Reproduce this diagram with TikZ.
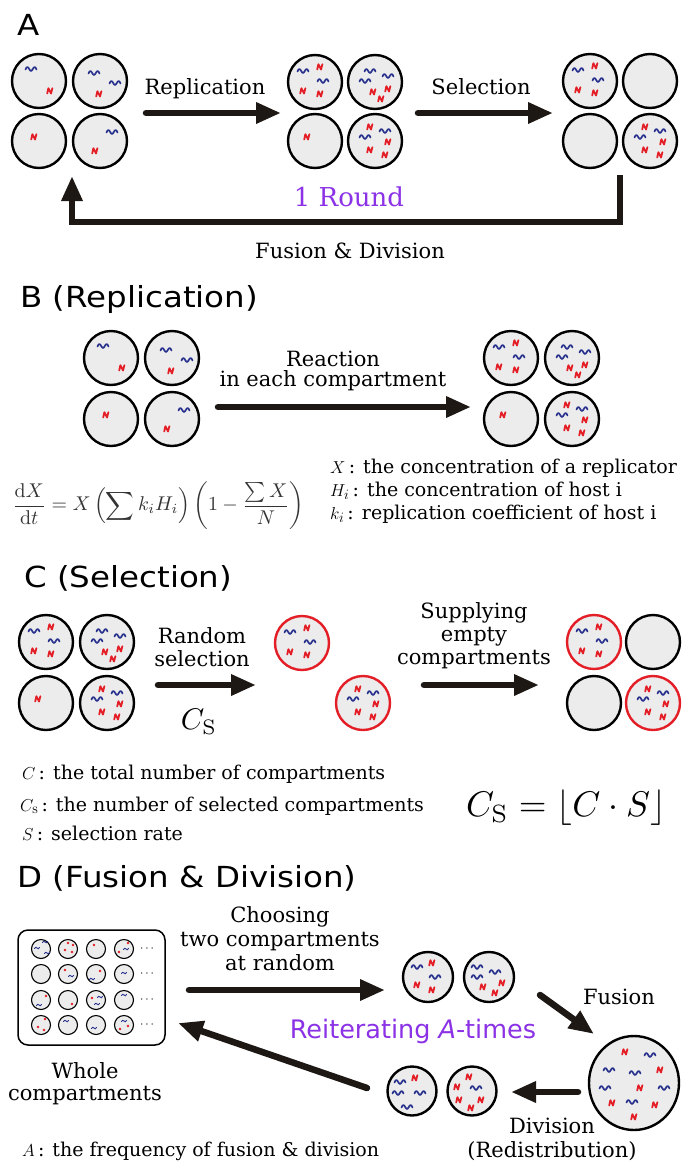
\documentclass[tikz,border=0pt]{standalone}
\usepackage[no-math]{fontspec}
\usepackage{graphicx}
\setmainfont{DejaVu Serif}
\newfontfamily\ttlfont[FakeStretch=1.12]{DejaVu Sans}
\newfontfamily\sansfnt{DejaVu Sans}
\usetikzlibrary{arrows.meta,shapes.geometric}
\definecolor{cellgray}{RGB}{236,236,236}
\definecolor{arrblack}{RGB}{30,24,21}
\definecolor{wblue}{RGB}{40,50,140}
\definecolor{wred}{RGB}{228,30,38}
\definecolor{rpurple}{RGB}{140,50,230}
\newcommand\bodyfs{\fontsize{21}{24}\selectfont}
\newcommand\legfs{\fontsize{19}{22}\selectfont}
\newcommand\ttlfs{\fontsize{29}{34}\selectfont}
\tikzset{
 cell/.style={circle, draw=black, line width=2.4pt, fill=cellgray, minimum size=54pt, inner sep=0pt},
 redcell/.style={cell, draw=wred},
 mini/.style={circle, draw=black, line width=1.1pt, fill=cellgray, minimum size=19pt, inner sep=0pt},
 bigarrow/.style={draw=arrblack, line width=6.5pt, line cap=round, -{Triangle[length=25pt,width=20pt]}},
 txt/.style={font=\bodyfs, inner sep=0pt, anchor=base},
 leg/.style={font=\legfs, inner sep=0pt, anchor=base west},
 ttl/.style={font=\ttlfont\ttlfs, inner sep=0pt, anchor=base west},
 bw/.pic={\draw[wblue, line width=1.7pt, line cap=round, line join=round] (-5.5,0.5) sin (-3.7,-2) cos (-1.8,0) sin (0,2) cos (1.8,0) sin (3.7,-2) cos (5.5,0.5);},
 rz/.pic={\draw[wred, line width=1.8pt, line join=round, line cap=round] (-2.8,2.5) -- (-1.6,-2.8) -- (1,2.5) -- (2.4,-2.8);},
 bws/.pic={\draw[wblue, line width=0.9pt, line cap=round] (-2.5,0.5) sin (-1.2,-0.7) cos (0,0) sin (1.2,0.7) cos (2.5,-0.5);},
 rzs/.pic={\fill[wred] (0,0) circle (1.3);}
}
\newcommand\putblue[2]{\begin{scope}[shift={(#1.center)}]\foreach \px/\py in {#2}{\pic at (\px,\py) {bw};}\end{scope}}
\newcommand\putred[2]{\begin{scope}[shift={(#1.center)}]\foreach \px/\py in {#2}{\pic at (\px,\py) {rz};}\end{scope}}
\newcommand\putbluesm[2]{\begin{scope}[shift={(#1.center)}]\foreach \px/\py in {#2}{\pic at (\px,\py) {bws};}\end{scope}}
\newcommand\putredsm[2]{\begin{scope}[shift={(#1.center)}]\foreach \px/\py in {#2}{\pic at (\px,\py) {rzs};}\end{scope}}
\newcommand\sOne[1]{\putblue{#1}{-12/-11,8/-1}\putred{#1}{5/-15,-12/9,5/12}}
\newcommand\sTwo[1]{\putblue{#1}{-5/-11,13/-6,-10/-1}\putred{#1}{-2/10,13/7,6/17}}
\newcommand\sThree[1]{\putred{#1}{-8/-4}}
\newcommand\sFour[1]{\putblue{#1}{10/-10,-10/-4}\putred{#1}{-5/-14,13/1,-5/9,10/14}}
\newcommand\iOne[1]{\putblue{#1}{-8/-12}\putred{#1}{11/10}}
\newcommand\iTwo[1]{\putblue{#1}{-6/-8,15/2}\putred{#1}{-1/13}}
\newcommand\iThree[1]{\putred{#1}{-5/-4}}
\newcommand\iFour[1]{\putblue{#1}{12/-9}\putred{#1}{-5/10}}
\begin{document}
\begin{tikzpicture}[x=1pt,y=-1pt]
\useasboundingbox (0,0) rectangle (681,1165);
\fill[white] (0,0) rectangle (681,1165);

% ---------------- A ----------------
\node[ttl] (tA) at (17,35) {A};
\node[cell] (a1tl) at (39,81) {};
\node[cell] (a1tr) at (100,81) {};
\node[cell] (a1bl) at (39,141) {};
\node[cell] (a1br) at (100,141) {};
\iOne{a1tl}\iTwo{a1tr}\iThree{a1bl}\iFour{a1br}
\node[cell] (a2tl) at (315,82) {};
\node[cell] (a2tr) at (375,82) {};
\node[cell] (a2bl) at (315,141) {};
\node[cell] (a2br) at (375,141) {};
\sOne{a2tl}\sTwo{a2tr}\sThree{a2bl}\sFour{a2br}
\node[cell] (a3tl) at (590,81) {};
\node[cell] (a3tr) at (650,81) {};
\node[cell] (a3bl) at (590,141) {};
\node[cell] (a3br) at (650,141) {};
\sOne{a3tl}\sFour{a3br}
\node[txt] (lRep) at (205,94) {Replication};
\node[txt] (lSel) at (481,94) {Selection};
\coordinate (arA1s) at (146,113);
\coordinate (arA1e) at (281,113);
\draw[bigarrow] (arA1s) -- (arA1e);
\coordinate (arA2s) at (418,113);
\coordinate (arA2e) at (553,113);
\draw[bigarrow] (arA2s) -- (arA2e);
\coordinate (retS) at (620,175);
\coordinate (retE) at (72,176);
\draw[bigarrow, line cap=butt, line join=miter] (retS) -- (620,222) -| (retE);
\node[txt, text=rpurple, font=\fontsize{26}{30}\selectfont] (round) at (349,206) {1 Round};
\node[txt] (lFD) at (350,258) {Fusion \& Division};

% ---------------- B ----------------
\node[ttl] (tB) at (20,307) {B (Replication)};
\node[cell] (b1tl) at (111,358) {};
\node[cell] (b1tr) at (172,358) {};
\node[cell] (b1bl) at (111,419) {};
\node[cell] (b1br) at (172,419) {};
\iOne{b1tl}\iTwo{b1tr}\iThree{b1bl}\iFour{b1br}
\node[cell] (b2tl) at (511,358) {};
\node[cell] (b2tr) at (572,358) {};
\node[cell] (b2bl) at (511,419) {};
\node[cell] (b2br) at (572,419) {};
\sOne{b2tl}\sTwo{b2tr}\sThree{b2bl}\sFour{b2br}
\coordinate (arBs) at (218,407);
\coordinate (arBe) at (471,407);
\draw[bigarrow] (arBs) -- (arBe);
\node[txt] (lReac1) at (333,366) {Reaction};
\node[txt] (lReac2) at (333,386) {in each compartment};
\node[anchor=west, inner sep=0pt, text=black!80] (eqB) at (12,506)
  {\resizebox{292pt}{!}{$\displaystyle \frac{\mathrm{d}X}{\mathrm{d}t}=X\left(\sum k_i H_i\right)\left(1-\frac{\sum X}{N}\right)$}};
\node[leg] (legB1) at (330,473) {$X$\,: the concentration of a replicator};
\node[leg] (legB2) at (330,496) {$H_i$\,: the concentration of host i};
\node[leg] (legB3) at (330,519) {$k_i$\,: replication coefficient of host i};

% ---------------- C ----------------
\node[ttl] (tC) at (24,587) {C (Selection)};
\node[cell] (c1tl) at (46,642) {};
\node[cell] (c1tr) at (107,642) {};
\node[cell] (c1bl) at (46,703) {};
\node[cell] (c1br) at (107,703) {};
\sOne{c1tl}\sTwo{c1tr}\sThree{c1bl}\sFour{c1br}
\coordinate (arC1s) at (158,685);
\coordinate (arC1e) at (256,685);
\draw[bigarrow] (arC1s) -- (arC1e);
\node[txt] (lRand1) at (202,643) {Random};
\node[txt] (lRand2) at (202,666) {selection};
\node[inner sep=0pt] (lCs) at (199,722) {\resizebox{36pt}{!}{$C_{\mathrm{S}}$}};
\node[redcell] (cs1) at (302,643) {};
\node[redcell] (cs2) at (363,703) {};
\sOne{cs1}\sFour{cs2}
\coordinate (arC2s) at (424,685);
\coordinate (arC2e) at (539,685);
\draw[bigarrow] (arC2s) -- (arC2e);
\node[txt] (lSup1) at (474,618) {Supplying};
\node[txt] (lSup2) at (474,641) {empty};
\node[txt] (lSup3) at (474,664) {compartments};
\node[redcell] (c2tl) at (594,642) {};
\node[cell] (c2tr) at (653,642) {};
\node[cell] (c2bl) at (594,703) {};
\node[redcell] (c2br) at (653,703) {};
\sOne{c2tl}\sFour{c2br}
\node[leg] (legC1) at (22,779) {$C$\,: the total number of compartments};
\node[leg] (legC2) at (20,811) {$C_{\mathrm{s}}$\,: the number of selected compartments};
\node[leg] (legC3) at (22,840) {$S$\,: selection rate};
\node[inner sep=0pt] (eqC) at (566,808) {\resizebox{200pt}{!}{$C_{\mathrm{S}}=\lfloor C\cdot S\rfloor$}};

% ---------------- D ----------------
\node[ttl] (tD) at (17,887) {D (Fusion \& Division)};
\node[draw=black, fill=white, rounded corners=10pt, line width=1.5pt, minimum width=147pt, minimum height=115pt, inner sep=0pt] (whole) at (91.5,987.5) {};
\foreach \r/\yy in {1/949,2/974,3/1000,4/1025}{
  \foreach \c/\xx in {1/41,2/68,3/96,4/124}{
    \node[mini] (m\r\c) at (\xx,\yy) {};
  }
  \node[inner sep=0pt, font=\fontsize{13}{14}\selectfont] (dots\r) at (147,\yy) {$\cdots$};
}
\putbluesm{m11}{4/-7,-4/-1,6/4}
\putredsm{m12}{0/-6,5/-4,-3/1,4/3}
\putredsm{m13}{-2/-4}
\putredsm{m14}{4/-6,-5/3}\putbluesm{m14}{2/0}
\putredsm{m22}{-3/-4}\putbluesm{m22}{3/2}
\putredsm{m23}{4/-3}\putbluesm{m23}{-4/5}
\putbluesm{m24}{0/-1}
\putredsm{m31}{5/-4}\putbluesm{m31}{-2/5}
\putredsm{m32}{4/4}
\putredsm{m33}{-4/-2}\putbluesm{m33}{4/-3,1/4}
\putbluesm{m34}{0/-5}
\putredsm{m41}{4/-6,-3/2,3/5}
\putbluesm{m42}{-2/-4}
\putbluesm{m43}{-2/3}
\putbluesm{m44}{0/-4}\putredsm{m44}{-4/4,4/1}
\node[txt] (lWh1) at (85,1078) {Whole};
\node[txt] (lWh2) at (85,1100) {compartments};
\node[txt] (lCh1) at (280,922) {Choosing};
\node[txt] (lCh2) at (280,946) {two compartments};
\node[txt] (lCh3) at (280,970) {at random};
\coordinate (arD1s) at (189,990);
\coordinate (arD1e) at (385,990);
\draw[bigarrow] (arD1s) -- (arD1e);
\node[cell, minimum size=50pt] (dc1) at (428,977) {};
\node[cell, minimum size=50pt] (dc2) at (489,977) {};
\putblue{dc1}{-11/-10,7/0}\putred{dc1}{4/-14,-11/8,4/13}
\putblue{dc2}{-12/-10,6/-5,-12/0}\putred{dc2}{13/6,-6/10,6/16}
\coordinate (arFs) at (540,995);
\coordinate (arFe) at (594,1034);
\draw[bigarrow] (arFs) -- (arFe);
\node[txt] (lFus) at (619,1004) {Fusion};
\node[ellipse, draw=black, line width=2.4pt, fill=cellgray, minimum width=90pt, minimum height=94pt, inner sep=0pt] (dbig) at (634,1083) {};
\putblue{dbig}{16/-28,-25/-13,1/-10,-29/5,30/5,-2/19}
\putred{dbig}{-9/-31,26/-13,6/5,-22/20,21/22,0/34}
\coordinate (arDvs) at (578,1092);
\coordinate (arDve) at (511,1092);
\draw[bigarrow] (arDvs) -- (arDve);
\node[cell, minimum size=49pt] (dd1) at (412,1091) {};
\node[cell, minimum size=49pt] (dd2) at (472,1091) {};
\putblue{dd1}{-12/-9,-14/2,8/2,-5/16}\putred{dd1}{3/-13}
\putblue{dd2}{4/-3}\putred{dd2}{-3/-14,-15/-4,-13/9,9/9,-1/17}
\node[txt] (lDiv1) at (552,1133) {Division};
\node[txt] (lDiv2) at (552,1157) {(Redistribution)};
\coordinate (arRs) at (367,1088);
\coordinate (arRe) at (178,1023);
\draw[bigarrow] (arRs) -- (arRe);
\node[txt, text=rpurple, font=\sansfnt\fontsize{25.5}{30}\selectfont] (reit) at (413,1038) {Reiterating \textit{A}-times};
\node[leg] (legD) at (22,1156) {$A$\,: the frequency of fusion \& division};
\end{tikzpicture}
\end{document}
